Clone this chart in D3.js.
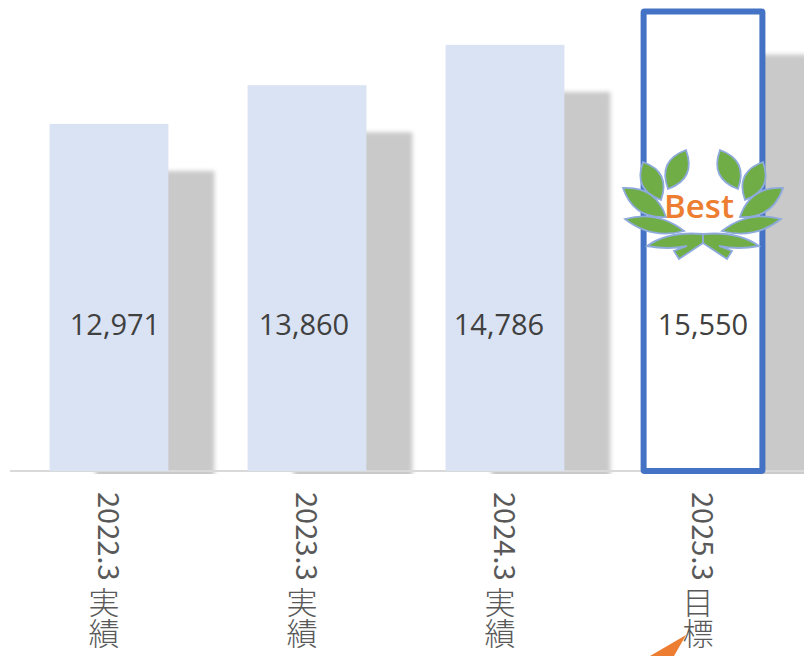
<!DOCTYPE html>
<html>
<head>
<meta charset="utf-8">
<script src="https://cdn.jsdelivr.net/npm/d3@7"></script>
<style>
  body { margin: 0; background: #fff; }
  svg { display: block; }
</style>
</head>
<body>
<div id="chart"></div>
<script>
const categories = ["2022.3 実績", "2023.3 実績", "2024.3 実績", "2025.3 目標"];
const values = [12971, 13860, 14786, 15550];
const targetCategory = "2025.3 目標";

const width = 808;
const height = 656;
const baseline = 471;

// las etiquetas de valor estan movidas a mano en el original
const labelShift = [6, -3, -6, 0];

const svg = d3.select("#chart").append("svg")
  .attr("width", width)
  .attr("height", height);

const defs = svg.append("defs");
defs.append("filter")
  .attr("id", "blur")
  .attr("x", "-20%").attr("y", "-20%").attr("width", "140%").attr("height", "140%")
  .append("feGaussianBlur")
  .attr("stdDeviation", 2);
defs.append("clipPath")
  .attr("id", "shadowClip")
  .append("rect")
  .attr("x", 0).attr("y", 0).attr("width", 804).attr("height", baseline + 3);

const xScale = d3.scaleBand()
  .domain(categories)
  .range([10, 802])
  .paddingInner(0.4)
  .paddingOuter(0.2);

const yScale = d3.scaleLinear()
  .domain([5000, 16000])
  .range([baseline, -8]);

const chartData = categories.map((c, i) => ({ category: c, value: values[i], shift: labelShift[i] }));

// sombras
svg.append("g")
  .attr("clip-path", "url(#shadowClip)")
  .append("g")
  .attr("filter", "url(#blur)")
  .selectAll("rect")
  .data(chartData)
  .enter()
  .append("rect")
  .attr("x", (d) => xScale(d.category) + 46)
  .attr("y", (d) => yScale(d.value) + 47 - (d.category === targetCategory ? 4 : 0))
  .attr("width", (d) => xScale.bandwidth() + (d.category === targetCategory ? 4 : 0))
  .attr("height", (d) => baseline + 10 - yScale(d.value) - 47)
  .attr("fill", "#c9c9c9");

// eje
const xAxis = d3.axisBottom(xScale).tickSize(0).tickPadding(0);
const axisG = svg.append("g")
  .attr("transform", `translate(0,${baseline})`)
  .call(xAxis);
axisG.select(".domain").remove();
axisG.append("line")
  .attr("x1", 10)
  .attr("x2", 804)
  .attr("stroke", "#d9d9d9")
  .attr("stroke-width", 2);

// los digitos y los kanji van en tspans separados
axisG.selectAll(".tick text")
  .attr("x", 2)
  .attr("y", 21)
  .attr("dy", 0)
  .attr("text-anchor", "start")
  .attr("fill", "#595959")
  .style("writing-mode", "vertical-rl")
  .style("font-family", "'Noto Sans CJK JP'")
  .each(function (d) {
    const parts = d.split(" ");
    const t = d3.select(this).text(null);
    t.append("tspan")
      .style("font-size", "29px")
      .style("font-weight", 400)
      .text(parts[0] + " ");
    t.append("tspan")
      .attr("dx", -7)
      .style("font-size", "31px")
      .style("font-weight", 300)
      .text(parts[1]);
  });

// barras
svg.append("g")
  .selectAll("rect")
  .data(chartData)
  .enter()
  .append("rect")
  .attr("x", (d) => xScale(d.category))
  .attr("y", (d) => yScale(d.value))
  .attr("width", xScale.bandwidth())
  .attr("height", (d) => baseline - yScale(d.value))
  .attr("rx", (d) => (d.category === targetCategory ? 1 : 0))
  .attr("fill", (d) => (d.category === targetCategory ? "#ffffff" : "#dae3f3"))
  .attr("stroke", (d) => (d.category === targetCategory ? "#4472c4" : "none"))
  .attr("stroke-width", 6);

// etiquetas de valor
svg.append("g")
  .selectAll("text")
  .data(chartData)
  .enter()
  .append("text")
  .attr("x", (d) => xScale(d.category) + xScale.bandwidth() / 2 + d.shift)
  .attr("y", 335)
  .attr("text-anchor", "middle")
  .attr("fill", "#404040")
  .style("font-family", "'Open Sans'")
  .style("font-size", "29px")
  .text((d) => d3.format(",")(d.value));

// laurel
const leaf = (len, wide) => `M0,0Q${len * 0.5},${-wide} ${len},0Q${len * 0.5},${wide} 0,0Z`;
const leaves = [
  { dx: -35, dy: 189, tipX: 18, tipY: -39, wide: 0.5 },
  { dx: -42, dy: 200, tipX: -18, tipY: -38, wide: 0.5 },
  { dx: -37, dy: 217, tipX: -43, tipY: -29, wide: 0.38 },
  { dx: -19, dy: 231, tipX: -59, tipY: -12, wide: 0.25 }
];
const centerX = xScale(targetCategory) + xScale.bandwidth() / 2;
const laurel = svg.append("g").attr("transform", `translate(${centerX},0)`);

[1, -1].forEach((side) => {
  const g = laurel.append("g").attr("transform", `scale(${side},1)`);
  leaves.forEach((l) => {
    const len = Math.hypot(l.tipX, l.tipY);
    const ang = Math.atan2(l.tipY, l.tipX) * 180 / Math.PI;
    g.append("path")
      .attr("d", leaf(len, len * l.wide))
      .attr("transform", `translate(${l.dx},${l.dy}) rotate(${ang})`)
      .attr("fill", "#70ad47")
      .attr("stroke", "#8faadc")
      .attr("stroke-width", 1.8);
  });
  g.append("path")
    .attr("d", "M0,234Q-35,231 -56,246Q-35,250 -16,246L-29,251L-24,259L0,243Z")
    .attr("fill", "#70ad47")
    .attr("stroke", "#8faadc")
    .attr("stroke-width", 1.8);
});

svg.append("text")
  .attr("x", centerX - 4)
  .attr("y", 218)
  .attr("text-anchor", "middle")
  .attr("fill", "#ed7d31")
  .style("font-family", "'Open Sans'")
  .style("font-weight", 600)
  .style("font-size", "33px")
  .text("Best");

// flecha naranja cortada abajo
svg.append("path")
  .attr("d", `M${centerX - 17},635L${centerX - 53},656L${centerX - 29},656Z`)
  .attr("fill", "#ed7d31");
</script>
</body>
</html>
